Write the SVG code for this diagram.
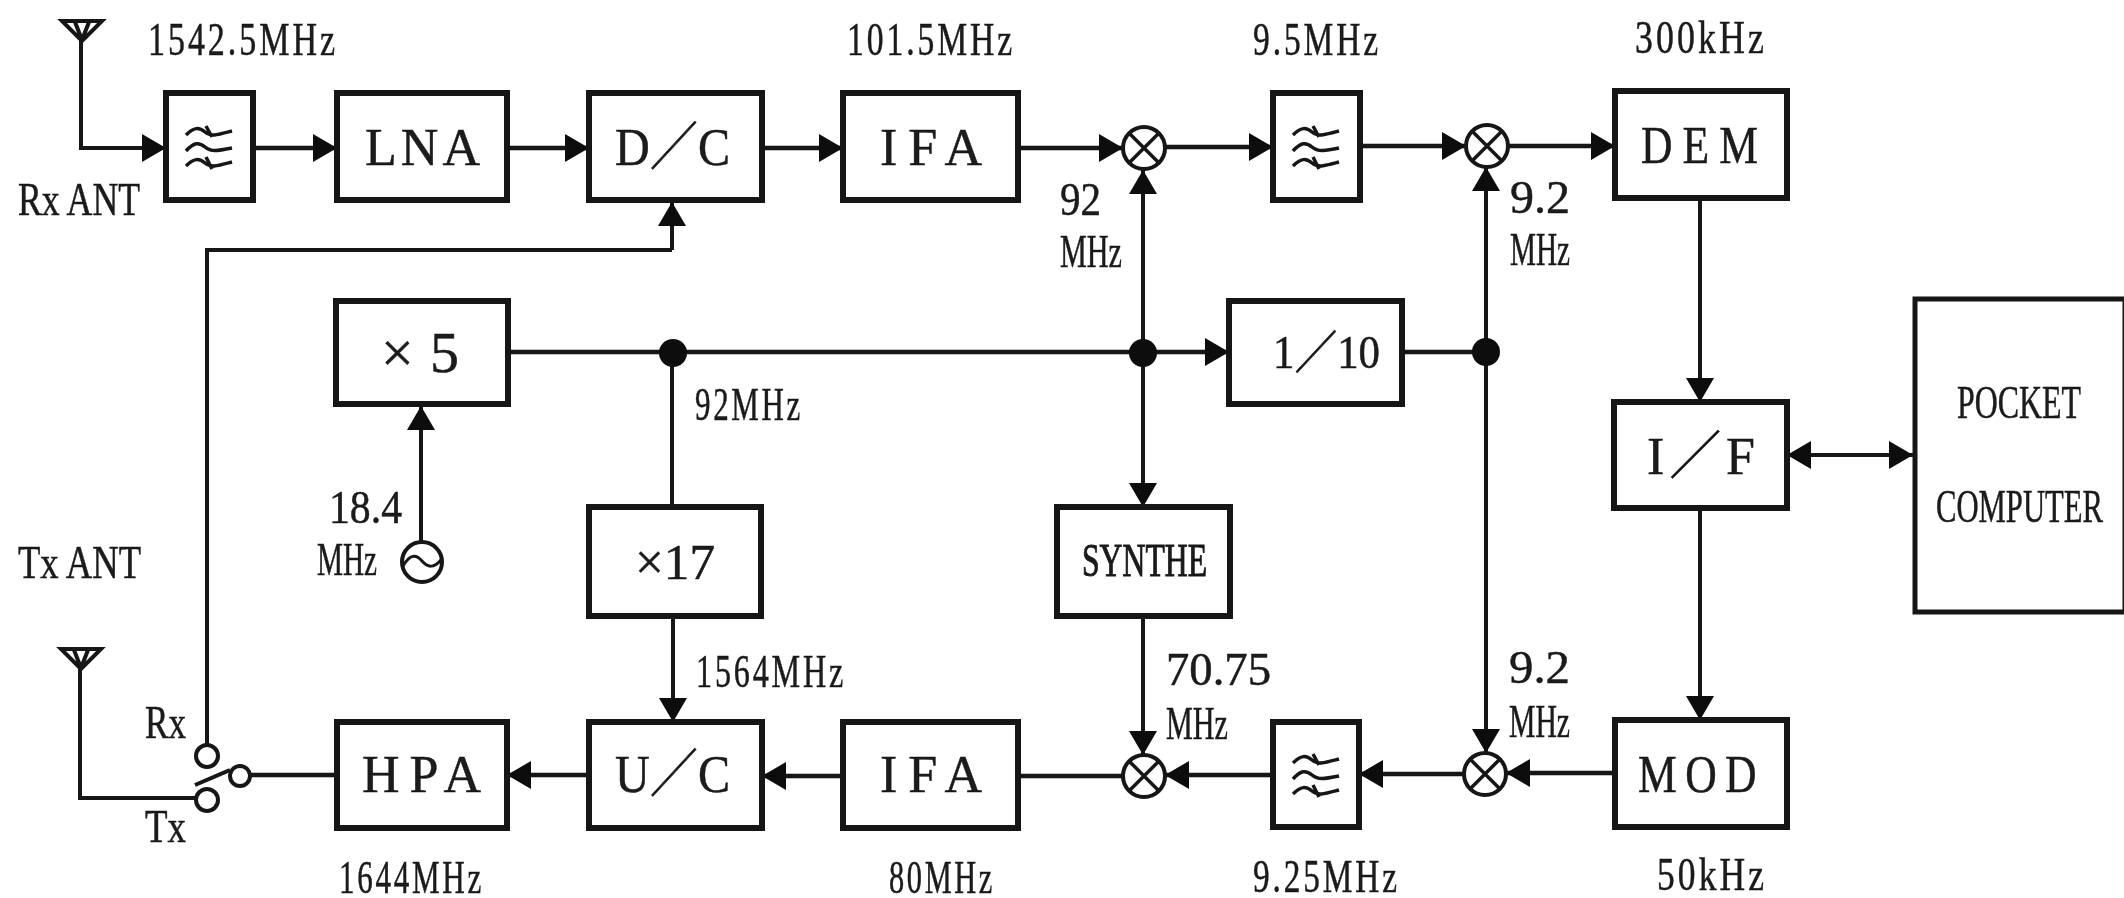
<svg xmlns="http://www.w3.org/2000/svg" width="2124" height="898" viewBox="0 0 2124 898">
<style>
.box{fill:#fff;stroke:#141414;stroke-width:6}
.thin{fill:none;stroke:#141414;stroke-width:4}
.c{fill:none;stroke:#141414;stroke-width:4.5;marker-end:url(#a)}
.n{fill:none;stroke:#141414;stroke-width:4.5}
.v{stroke-width:4}
text{font-family:"Liberation Serif","Noto Sans CJK JP",serif;fill:#1a1a1a;stroke:#1a1a1a;stroke-width:.5}
.f{font-size:46px}
.b{font-size:52px}
.s{font-size:46px;stroke-width:1}
.d{letter-spacing:4px}
.dot{fill:#0c0c0c}
</style>
<defs>
<filter id="soft" x="0" y="0" width="100%" height="100%"><feGaussianBlur stdDeviation="0.7"/></filter>
<marker id="a" markerUnits="userSpaceOnUse" markerWidth="24" markerHeight="28" refX="24" refY="14" orient="auto-start-reverse"><path d="M0,0L24,14L0,28Z" fill="#0c0c0c"/></marker>
<g id="wave" class="thin" style="stroke-width:3.5">
<path d="M-23,-13C-15,-21 -10,-21 -4,-16S8,-13 23,-17M-3,-22L3,-11"/>
<path d="M-23,3C-15,-6 -10,-6 -4,-1S8,3 23,0"/>
<path d="M-23,18C-15,10 -10,10 -4,15S8,18 23,14M-3,9L3,21"/>
</g>
<g id="mix"><ellipse rx="21" ry="21" class="thin" style="fill:#fff"/><path d="M-15,-15L15,15M15,-15L-15,15" class="thin" style="stroke-width:3.5"/></g>
</defs>
<rect width="2124" height="898" fill="#fff"/>
<g id="diagram" filter="url(#soft)">
<g id="connectors">
<path class="c v" d="M81,40V148H166"/>
<path class="c" d="M253,148H337"/>
<path class="c" d="M507,148H589"/>
<path class="c" d="M762,148H843"/>
<path class="c" d="M1018,148H1123"/>
<path class="c" d="M1165,147H1273"/>
<path class="c" d="M1360,146H1466"/>
<path class="c" d="M1508,146H1615"/>
<path class="c" d="M508,352H1229"/>
<path class="n" d="M1402,352H1486"/>
<path class="n v" d="M672,352V507"/>
<path class="c v" d="M673,616V722"/>
<path class="c v" d="M1143,352V170"/>
<path class="c v" d="M1143,352V507"/>
<path class="c v" d="M1143,616V755"/>
<path class="c v" d="M1486,352V167"/>
<path class="c v" d="M1486,352V753"/>
<path class="c v" d="M1700,198V402"/>
<path class="c v" d="M1700,508V720"/>
<path style="marker-start:url(#a)" class="c v" d="M1787,455H1913"/>
<path class="c" d="M1615,773H1506"/>
<path class="c" d="M1464,774H1359"/>
<path class="c" d="M1273,775H1165"/>
<path class="n" d="M1123,776H1018"/>
<path class="c" d="M843,776H762"/>
<path class="c" d="M589,775H507"/>
<path class="n" d="M337,775H251"/>
<path class="c v" d="M421,544V406"/>
<path class="n v" d="M207,745V250H672"/>
<path class="c v" d="M672,250V202"/>
<path class="n v" d="M80,668V798H197"/>
</g>
<g id="rx-antenna"><path class="thin" d="M62,21H102L82,41ZM75,22L82,40L89,22"/></g>
<g id="tx-antenna"><path class="thin" d="M61,649H101L81,669ZM74,650L81,668L88,650"/></g>
<g id="filter1"><rect class="box" x="166" y="93" width="87" height="107"/><use href="#wave" x="209" y="148"/></g>
<g id="lna"><rect class="box" x="337" y="93" width="170" height="107"/><text class="b" x="365" y="165" textLength="115">LNA</text></g>
<g id="dc"><rect class="box" x="589" y="93" width="173" height="107"/><text class="b" x="615" y="165" textLength="115" lengthAdjust="spacingAndGlyphs">D／C</text></g>
<g id="ifa-top"><rect class="box" x="843" y="93" width="175" height="107"/><text class="b" x="880" y="165" textLength="102">IFA</text></g>
<g id="mixer1"><use href="#mix" x="1144" y="148"/></g>
<g id="filter2"><rect class="box" x="1273" y="93" width="87" height="107"/><use href="#wave" x="1316" y="148"/></g>
<g id="mixer2"><use href="#mix" x="1487" y="146"/></g>
<g id="dem"><rect class="box" x="1615" y="91" width="172" height="107"/><text class="b" style="letter-spacing:12px" x="1641" y="163" textLength="127" lengthAdjust="spacingAndGlyphs">DEM</text></g>
<g id="x5"><rect class="box" x="336" y="301" width="172" height="103"/><text style="font-size:58px" x="381" y="372" textLength="78">×5</text></g>
<g id="div10"><rect class="box" x="1229" y="301" width="173" height="103"/><text class="f" x="1273" y="368" textLength="107" lengthAdjust="spacingAndGlyphs">1／10</text></g>
<g id="dot1"><circle class="dot" cx="673" cy="353" r="14"/></g>
<g id="dot2"><circle class="dot" cx="1143" cy="353" r="14"/></g>
<g id="dot3"><circle class="dot" cx="1486" cy="352" r="14"/></g>
<g id="x17"><rect class="box" x="589" y="507" width="172" height="109"/><text style="font-size:50px" x="635" y="579" textLength="80" lengthAdjust="spacingAndGlyphs">×17</text></g>
<g id="synthe"><rect class="box" x="1057" y="507" width="173" height="109"/><text class="s" x="1082" y="576" textLength="125" lengthAdjust="spacingAndGlyphs">SYNTHE</text></g>
<g id="if"><rect class="box" x="1614" y="402" width="173" height="106"/><text class="b" x="1647" y="474" textLength="108">I／F</text></g>
<g id="pc"><rect class="box" style="stroke-width:5" x="1915" y="299" width="210" height="313"/><text class="f" x="1957" y="418" textLength="124" lengthAdjust="spacingAndGlyphs">POCKET</text><text class="f" x="1936" y="522" textLength="167" lengthAdjust="spacingAndGlyphs">COMPUTER</text></g>
<g id="osc"><circle class="thin" cx="422" cy="562" r="20"/><path class="thin" style="stroke-width:3" d="M403,566C410,554 416,554 422,561S434,568 441,560"/></g>
<g id="hpa"><rect class="box" x="337" y="722" width="170" height="106"/><text class="b" x="362" y="792" textLength="119">HPA</text></g>
<g id="uc"><rect class="box" x="589" y="722" width="173" height="106"/><text class="b" x="615" y="792" textLength="115" lengthAdjust="spacingAndGlyphs">U／C</text></g>
<g id="ifa-bot"><rect class="box" x="843" y="722" width="175" height="106"/><text class="b" x="880" y="792" textLength="102">IFA</text></g>
<g id="mixer3"><use href="#mix" x="1144" y="776"/></g>
<g id="filter3"><rect class="box" x="1273" y="722" width="86" height="105"/><use href="#wave" x="1316" y="776"/></g>
<g id="mixer4"><use href="#mix" x="1485" y="774"/></g>
<g id="mod"><rect class="box" x="1615" y="720" width="172" height="107"/><text class="b" style="letter-spacing:10px" x="1638" y="792" textLength="127" lengthAdjust="spacingAndGlyphs">MOD</text></g>
<g id="switch"><circle class="thin" cx="207" cy="756" r="11"/><circle class="thin" cx="207" cy="800" r="11"/><circle class="thin" cx="240" cy="776" r="10"/><path class="thin" d="M195,785L230,770"/></g>
<g id="labels">
<text class="f d" x="148" y="55" textLength="190" lengthAdjust="spacingAndGlyphs">1542.5MHz</text>
<text class="f" x="18" y="215" textLength="122" lengthAdjust="spacingAndGlyphs">Rx ANT</text>
<text class="f d" x="847" y="55" textLength="168" lengthAdjust="spacingAndGlyphs">101.5MHz</text>
<text class="f d" x="1253" y="55" textLength="128" lengthAdjust="spacingAndGlyphs">9.5MHz</text>
<text class="f d" x="1635" y="53" textLength="132" lengthAdjust="spacingAndGlyphs">300kHz</text>
<text class="f" x="1060" y="215" textLength="41" lengthAdjust="spacingAndGlyphs">92</text>
<text class="f" x="1060" y="267" textLength="62" lengthAdjust="spacingAndGlyphs">MHz</text>
<text class="f" x="1510" y="213" textLength="60" lengthAdjust="spacingAndGlyphs">9.2</text>
<text class="f" x="1510" y="265" textLength="60" lengthAdjust="spacingAndGlyphs">MHz</text>
<text class="f d" x="695" y="420" textLength="108" lengthAdjust="spacingAndGlyphs">92MHz</text>
<text class="f" x="329" y="523" textLength="73" lengthAdjust="spacingAndGlyphs">18.4</text>
<text class="f" x="317" y="575" textLength="60" lengthAdjust="spacingAndGlyphs">MHz</text>
<text class="f" x="18" y="578" textLength="123" lengthAdjust="spacingAndGlyphs">Tx ANT</text>
<text class="f d" x="696" y="687" textLength="150" lengthAdjust="spacingAndGlyphs">1564MHz</text>
<text class="f" x="1166" y="685" textLength="105" lengthAdjust="spacingAndGlyphs">70.75</text>
<text class="f" x="1166" y="739" textLength="62" lengthAdjust="spacingAndGlyphs">MHz</text>
<text class="f" x="1509" y="683" textLength="61" lengthAdjust="spacingAndGlyphs">9.2</text>
<text class="f" x="1509" y="737" textLength="61" lengthAdjust="spacingAndGlyphs">MHz</text>
<text class="f" x="145" y="738" textLength="41" lengthAdjust="spacingAndGlyphs">Rx</text>
<text class="f" x="145" y="842" textLength="41" lengthAdjust="spacingAndGlyphs">Tx</text>
<text class="f d" x="339" y="893" textLength="145" lengthAdjust="spacingAndGlyphs">1644MHz</text>
<text class="f d" x="889" y="893" textLength="106" lengthAdjust="spacingAndGlyphs">80MHz</text>
<text class="f d" x="1253" y="892" textLength="147" lengthAdjust="spacingAndGlyphs">9.25MHz</text>
<text class="f d" x="1657" y="890" textLength="110" lengthAdjust="spacingAndGlyphs">50kHz</text>
</g>
</g>
</svg>
